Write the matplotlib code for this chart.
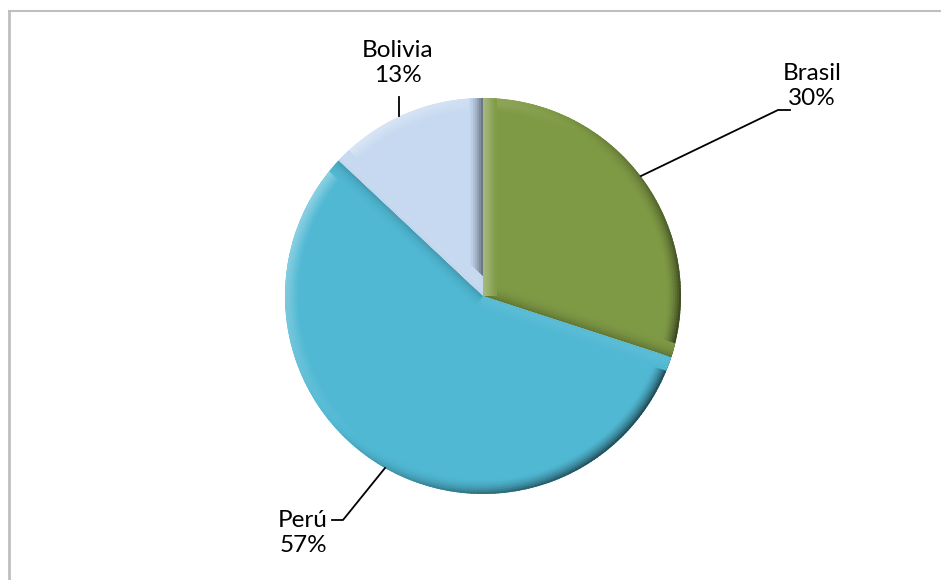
import numpy as np
import matplotlib.pyplot as plt
from matplotlib.patches import Wedge, Polygon
from matplotlib.colors import to_rgb

# shares per country, clockwise from 12 o'clock
paises = ['Brasil', 'Perú', 'Bolivia']
porcentajes = [30, 57, 13]
colores = ['#7F9A45', '#50B8D3', '#C6D9F0']

plt.rcParams['font.family'] = ['Lato', 'DejaVu Sans']

fig = plt.figure(figsize=(9.41, 5.8), dpi=100)
ax = fig.add_axes([0, 0, 1, 1])

W, H = 941, 580
cx, cy, r = 483, H - 296, 198

wedges, _ = ax.pie(porcentajes, colors=colores, startangle=90, counterclock=False,
                   center=(cx, cy), radius=r, wedgeprops=dict(linewidth=0))
ax.set_xlim(0, W)
ax.set_ylim(0, H)
ax.set_aspect('equal')
ax.axis('off')


def shade(c, f):
    c = np.array(to_rgb(c))
    f = float(np.clip(f, -0.9, 0.9))
    if f > 0:
        return tuple(c + (1 - c) * f)
    return tuple(c * (1 + f))


luz = 145      # light direction, degrees
bev = 14       # bevel width in px
n = 7
for w, col in zip(wedges, colores):
    t1, t2 = w.theta1, w.theta2
    # rounded rim
    angs = np.linspace(t1, t2, int(t2 - t1) + 2)
    for i in range(n):
        t = (i + 0.5) / n
        rin = r - bev + i * bev / n
        for a0, a1 in zip(angs[:-1], angs[1:]):
            f = np.cos(np.radians((a0 + a1) / 2 - luz))
            ax.add_patch(Wedge((cx, cy), rin + bev / n + 0.4, a0, a1 + 0.4,
                               width=bev / n + 0.4, lw=0,
                               color=shade(col, 0.5 * t ** 1.3 * f - 0.15 * t ** 3),
                               clip_path=w))
    # bevel along the straight sides
    for a, nrm in ((t1, t1 - 90), (t2, t2 + 90)):
        u = np.array([np.cos(np.radians(a)), np.sin(np.radians(a))])
        v = -np.array([np.cos(np.radians(nrm)), np.sin(np.radians(nrm))])
        f = np.cos(np.radians(nrm - luz))
        for i in range(n):
            d0, d1 = i * bev / n, (i + 1) * bev / n + 0.4
            t = 1 - (i + 0.5) / n
            c0 = np.array([cx, cy])
            pts = [c0 + v * d0, c0 + u * (r + 5) + v * d0,
                   c0 + u * (r + 5) + v * d1, c0 + v * d1]
            ax.add_patch(Polygon(pts, closed=True, lw=0,
                                 color=shade(col, 0.5 * t ** 1.3 * f - 0.1 * t ** 3),
                                 clip_path=w))

# leader lines (y measured from the top)
lineas = {
    'Brasil': [(641, 176), (778, 110), (790, 110)],
    'Perú': [(385, 468), (343, 520), (332, 520)],
    'Bolivia': [(399, 97), (399, 116)],
}
for pts in lineas.values():
    xs = [p[0] for p in pts]
    ys = [H - p[1] for p in pts]
    ax.plot(xs, ys, color='black', lw=1.3)

pos = {'Brasil': (812, 86), 'Perú': (303, 533), 'Bolivia': (398, 63)}
for p, v in zip(paises, porcentajes):
    x, y = pos[p]
    ax.text(x, H - y, f'{p}\n{v}%', ha='center', va='center', fontsize=17.5,
            linespacing=1.22, color='black')

# light frame on the top and left
fig.add_artist(plt.Line2D([9 / W, 9 / W], [0, 1 - 11 / H], color='#BFBFBF', lw=2,
                          transform=fig.transFigure))
fig.add_artist(plt.Line2D([9 / W, 1], [1 - 11 / H, 1 - 11 / H], color='#BFBFBF', lw=1.5,
                          transform=fig.transFigure))

fig.savefig('out.png', dpi=100, facecolor='white')
